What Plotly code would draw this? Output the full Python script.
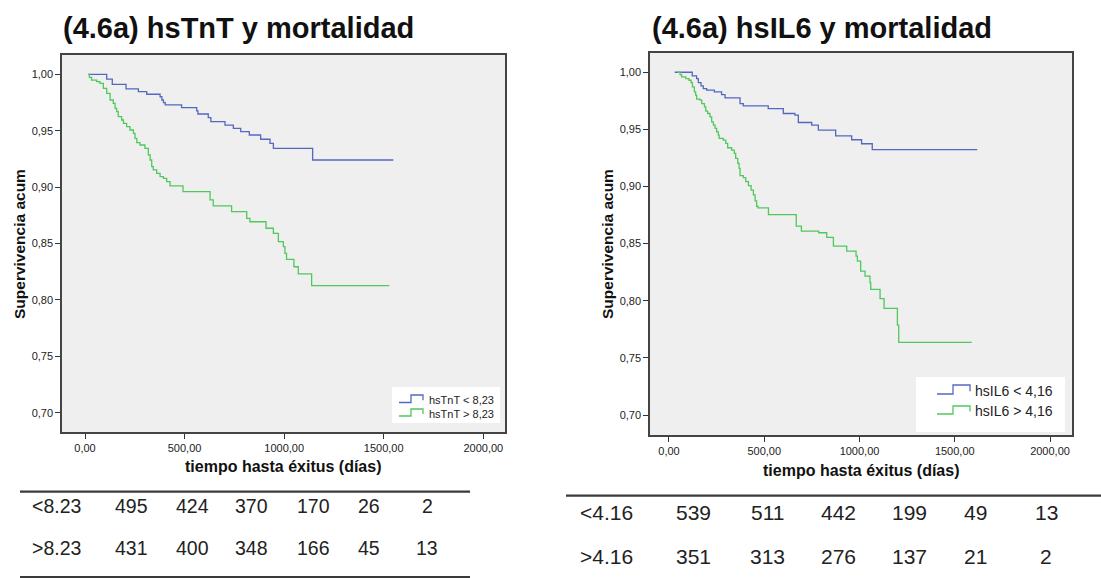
import plotly.graph_objects as go

W, H = 1101, 578

# ---------------- data ----------------
# Left panel: hsTnT
tnt_low_t = [17, 109, 137, 206, 268, 310, 377, 386, 394, 403, 485, 561, 567, 619, 632,
             703, 745, 782, 825, 882, 929, 946, 1143, 1548]
tnt_low_s = [1.0, 0.9958, 0.9911, 0.987, 0.9846, 0.9823, 0.9801, 0.9772, 0.9748, 0.9728,
             0.9704, 0.9675, 0.9648, 0.9615, 0.958, 0.955, 0.9521, 0.9491, 0.9462, 0.9424,
             0.9388, 0.9344, 0.924, 0.924]
tnt_high_t = [17, 22, 33, 59, 75, 92, 109, 126, 142, 151, 159, 167, 184, 193, 209, 226, 243,
              251, 260, 276, 301, 318, 327, 335, 343, 360, 377, 394, 410, 427, 492, 628, 644,
              736, 812, 828, 909, 946, 971, 996, 1004, 1012, 1049, 1071, 1138, 1528]
tnt_high_s = [1.0, 0.9973, 0.9949, 0.9935, 0.992, 0.9876, 0.9831, 0.9772, 0.9743, 0.9698,
              0.9669, 0.9624, 0.9595, 0.9565, 0.9536, 0.9506, 0.9477, 0.9432, 0.9394, 0.9373,
              0.9344, 0.9285, 0.924, 0.9181, 0.9152, 0.9122, 0.9093, 0.9078, 0.9048, 0.901,
              0.896, 0.8886, 0.8833, 0.8782, 0.8723, 0.8693, 0.8635, 0.859, 0.8516, 0.8472,
              0.8413, 0.836, 0.8294, 0.823, 0.8126, 0.8126]

# Right panel: hsIL6
il6_low_t = [30, 122, 145, 154, 168, 180, 198, 238, 276, 294, 373, 390, 521, 600, 661, 679,
             749, 784, 875, 959, 1011, 1067, 1618]
il6_low_s = [1.0, 0.9968, 0.9944, 0.9909, 0.988, 0.9857, 0.9843, 0.9828, 0.9805, 0.9776,
             0.9726, 0.9706, 0.9682, 0.9639, 0.9625, 0.956, 0.9537, 0.9494, 0.9444, 0.9409,
             0.9374, 0.9322, 0.9322]
il6_high_t = [45, 58, 66, 88, 105, 116, 123, 133, 140, 145, 163, 172, 186, 193, 203, 215, 224,
              233, 242, 250, 259, 263, 285, 298, 308, 329, 343, 350, 361, 368, 373, 390, 403,
              417, 431, 443, 452, 460, 467, 522, 668, 695, 786, 828, 863, 933, 982, 989, 1006,
              1029, 1055, 1059, 1108, 1129, 1199, 1206, 1589]
il6_high_s = [1.0, 0.998, 0.9959, 0.9944, 0.993, 0.991, 0.9872, 0.9828, 0.9799, 0.9764,
              0.9756, 0.9726, 0.9697, 0.9659, 0.9639, 0.961, 0.9566, 0.9537, 0.9508, 0.9479,
              0.945, 0.9421, 0.9406, 0.9377, 0.9339, 0.9319, 0.929, 0.9246, 0.9202, 0.9159,
              0.9095, 0.9077, 0.9042, 0.9007, 0.8969, 0.8926, 0.8874, 0.8827, 0.8813, 0.8754,
              0.8653, 0.8609, 0.8595, 0.8555, 0.8478, 0.8434, 0.8391, 0.8347, 0.826, 0.8216,
              0.8158, 0.81, 0.8018, 0.7934, 0.7786, 0.7635, 0.7635]

x_ticks = [0, 500, 1000, 1500, 2000]
y_ticks = [0.70, 0.75, 0.80, 0.85, 0.90, 0.95, 1.00]

titles = ["(4.6a) hsTnT y mortalidad", "(4.6a) hsIL6 y mortalidad"]
y_title = "Supervivencia acum"
x_title = "tiempo hasta éxitus (días)"
tnt_legend = ["hsTnT < 8,23", "hsTnT > 8,23"]
il6_legend = ["hsIL6 < 4,16", "hsIL6 > 4,16"]

tnt_rows = ["<8.23", ">8.23"]
tnt_counts = [[495, 424, 370, 170, 26, 2], [431, 400, 348, 166, 45, 13]]
il6_rows = ["<4.16", ">4.16"]
il6_counts = [[539, 511, 442, 199, 49, 13], [351, 313, 276, 137, 21, 2]]

# ---------------- style ----------------
BLUE = "#5468c0"
GREEN = "#50c85c"
FONT = "Liberation Sans, Arial, sans-serif"


def px(x):
    return x / W


def py(y):
    return 1 - y / H


fig = go.Figure()
for t, s, c, xa, ya in [
    (tnt_low_t, tnt_low_s, BLUE, "x", "y"),
    (tnt_high_t, tnt_high_s, GREEN, "x", "y"),
    (il6_low_t, il6_low_s, BLUE, "x2", "y2"),
    (il6_high_t, il6_high_s, GREEN, "x2", "y2"),
]:
    fig.add_trace(go.Scatter(x=t, y=s, mode="lines", line=dict(color=c, width=1.3, shape="hv"),
                             xaxis=xa, yaxis=ya, showlegend=False, hoverinfo="skip"))

axis_common = dict(ticks="outside", ticklen=5, tickwidth=1, tickcolor="#333",
                   showline=True, linecolor="#444", linewidth=1.5, mirror=True,
                   showgrid=False, zeroline=False, tickformat=".2f",
                   tickfont=dict(family=FONT, size=11, color="#222"))

fig.update_layout(
    width=W, height=H, margin=dict(l=0, r=0, t=0, b=0),
    paper_bgcolor="white", plot_bgcolor="#efefef", separators=",.",
    showlegend=False,
    xaxis=dict(domain=[px(62), px(505)], range=[-115.5, 2109], tickvals=x_ticks, anchor="y",
               **axis_common),
    yaxis=dict(domain=[py(432), py(55)], range=[0.6829, 1.0171], tickvals=y_ticks, anchor="x",
               **axis_common),
    xaxis2=dict(domain=[px(650), px(1072)], range=[-99.7, 2115.5], tickvals=x_ticks, anchor="y2",
                **axis_common),
    yaxis2=dict(domain=[py(435), py(53)], range=[0.6825, 1.01685], tickvals=y_ticks, anchor="x2",
                **axis_common),
)

ann = []
shapes = []

# titles
for txt, x0 in zip(titles, [61, 650]):
    ann.append(dict(text="<b>%s</b>" % txt, x=px(x0), y=py(28), xref="paper", yref="paper",
                    xanchor="left", yanchor="middle", showarrow=False,
                    font=dict(family=FONT, size=29, color="#111")))

# axis titles
for xc, yc in [(19, 244), (607, 244)]:
    ann.append(dict(text="<b>%s</b>" % y_title, x=px(xc), y=py(yc), xref="paper", yref="paper",
                    xanchor="center", yanchor="middle", textangle=-90, showarrow=False,
                    font=dict(family=FONT, size=15.5, color="#111")))
for xc, yc in [(283.5, 466.5), (861, 470)]:
    ann.append(dict(text="<b>%s</b>" % x_title, x=px(xc), y=py(yc), xref="paper", yref="paper",
                    xanchor="center", yanchor="middle", showarrow=False,
                    font=dict(family=FONT, size=16, color="#111")))


# legends (drawn manually with step icons)
def legend(box, labels, icon_x, rows, fsize):
    x0, y0, x1, y1 = box
    shapes.append(dict(type="rect", xref="paper", yref="paper", x0=px(x0), x1=px(x1),
                       y0=py(y1), y1=py(y0), fillcolor="white", line=dict(width=0), layer="above"))
    ix0, ixm, ix1, tx = icon_x
    for lab, col, (ylow, yhigh, ytext) in zip(labels, [BLUE, GREEN], rows):
        ydrop = yhigh + (ylow - yhigh) * 0.7
        path = "M %f %f L %f %f L %f %f L %f %f L %f %f" % (
            px(ix0), py(ylow), px(ixm), py(ylow), px(ixm), py(yhigh), px(ix1), py(yhigh),
            px(ix1), py(ydrop))
        shapes.append(dict(type="path", xref="paper", yref="paper", path=path,
                           line=dict(color=col, width=1.3), layer="above"))
        ann.append(dict(text=lab, x=px(tx), y=py(ytext), xref="paper", yref="paper",
                        xanchor="left", yanchor="middle", showarrow=False,
                        font=dict(family=FONT, size=fsize, color="#222")))


legend((392, 387, 500, 423), tnt_legend, (399, 411, 423, 427),
       [(402.5, 395, 399.5), (416, 409, 413.5)], 11)
legend((916, 377, 1065, 432), il6_legend, (937, 953, 970, 973),
       [(394, 385, 391), (414, 406, 411)], 14)


# number-at-risk tables
def table(line_ys, x0, x1, rows, counts, label_x, col_x, row_y, fsize):
    for ly in line_ys:
        shapes.append(dict(type="line", xref="paper", yref="paper", x0=px(x0), x1=px(x1),
                           y0=py(ly), y1=py(ly), line=dict(color="#3a3a3a", width=2.2)))
    for lab, vals, ry in zip(rows, counts, row_y):
        ann.append(dict(text=lab.replace("<", "&lt;").replace(">", "&gt;"), x=px(label_x),
                        y=py(ry), xref="paper", yref="paper", xanchor="left", yanchor="middle",
                        showarrow=False, font=dict(family=FONT, size=fsize, color="#222")))
        for v, cx in zip(vals, col_x):
            ann.append(dict(text=str(v), x=px(cx), y=py(ry), xref="paper", yref="paper",
                            xanchor="center", yanchor="middle", showarrow=False,
                            font=dict(family=FONT, size=fsize, color="#222")))


table([491.7, 577], 20, 470, tnt_rows, tnt_counts, 30,
      [131, 192, 251, 313, 369, 427], [506, 548], 19.5)
table([495.7], 566, 1101, il6_rows, il6_counts, 578,
      [693, 767, 838, 909, 975, 1046], [512, 556.5], 21)

fig.update_layout(annotations=ann, shapes=shapes)
fig.write_html("out.html")
